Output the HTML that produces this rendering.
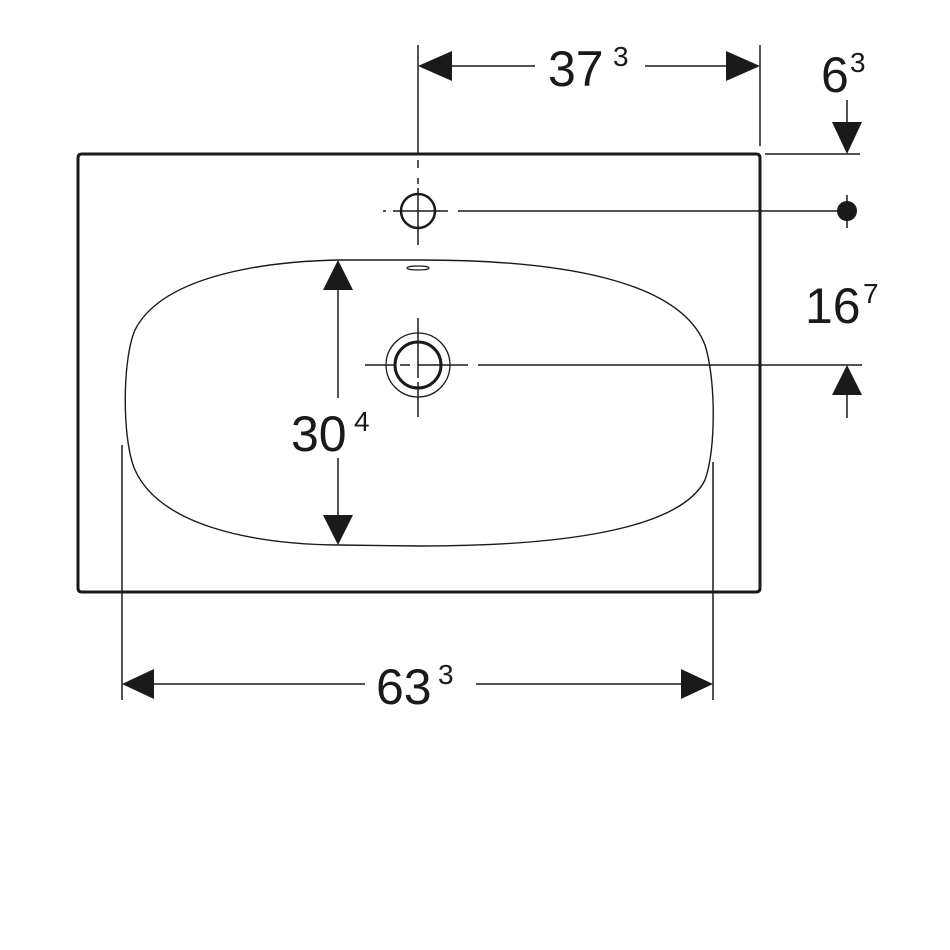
<!DOCTYPE html>
<html><head><meta charset="utf-8"><style>
html,body{margin:0;padding:0;background:#fff;}
svg{display:block;}
text{font-family:"Liberation Sans",sans-serif;fill:#1a1a1a;}
</style></head><body>
<svg width="950" height="950" viewBox="0 0 950 950" xmlns="http://www.w3.org/2000/svg">
<g stroke="#1a1a1a" fill="none">
<path d="M78,158 Q78,154 82,154 L756,154 Q760,154 760,158 L760,588 Q760,592 756,592 L82,592 Q78,592 78,588 Z" stroke-width="3"/>
<path d="M338,260 C250,262 160,280 135,330 C122,360 122,440 135,470 C160,525 250,544 338,545 L420,546 C560,546 680,530 705,480 C716,450 716,380 705,345 C680,280 560,260 420,260 Z" stroke-width="1.4"/>
<ellipse cx="418" cy="268" rx="11" ry="2" stroke-width="1.2"/>
<circle cx="418" cy="211" r="17" stroke-width="2.5"/>
<line x1="418" y1="188" x2="418" y2="245" stroke-width="1.5"/>
<line x1="418" y1="178" x2="418" y2="184" stroke-width="1.5"/>
<line x1="383" y1="211" x2="386" y2="211" stroke-width="1.5"/>
<line x1="393" y1="211" x2="448" y2="211" stroke-width="1.5"/>
<line x1="458" y1="211" x2="840" y2="211" stroke-width="1.5"/>
<circle cx="847" cy="211" r="10" fill="#1a1a1a" stroke="none"/>
<line x1="847" y1="195" x2="847" y2="228" stroke-width="1.5"/>
<circle cx="418" cy="365" r="32" stroke-width="1.3"/>
<circle cx="418" cy="365" r="23" stroke-width="3"/>
<line x1="418" y1="318" x2="418" y2="378" stroke-width="1.5"/>
<line x1="418" y1="382" x2="418" y2="417" stroke-width="1.5"/>
<line x1="365" y1="365" x2="395" y2="365" stroke-width="1.5"/>
<line x1="400" y1="365" x2="410" y2="365" stroke-width="1.5"/>
<line x1="418" y1="365" x2="468" y2="365" stroke-width="1.5"/>
<line x1="478" y1="365" x2="862" y2="365" stroke-width="1.5"/>
<line x1="418" y1="45" x2="418" y2="154" stroke-width="1.5"/>
<line x1="418" y1="160" x2="418" y2="168" stroke-width="1.5"/>
<line x1="760" y1="45" x2="760" y2="146" stroke-width="1.5"/>
<line x1="440" y1="66" x2="535" y2="66" stroke-width="1.5"/>
<line x1="645" y1="66" x2="740" y2="66" stroke-width="1.5"/>
<line x1="765" y1="154" x2="860" y2="154" stroke-width="1.5"/>
<line x1="847" y1="100" x2="847" y2="130" stroke-width="1.5"/>
<line x1="847" y1="390" x2="847" y2="418" stroke-width="1.5"/>
<line x1="338" y1="285" x2="338" y2="398" stroke-width="1.5"/>
<line x1="338" y1="458" x2="338" y2="520" stroke-width="1.5"/>
<line x1="122" y1="445" x2="122" y2="700" stroke-width="1.5"/>
<line x1="713" y1="462" x2="713" y2="700" stroke-width="1.5"/>
<line x1="150" y1="684" x2="365" y2="684" stroke-width="1.5"/>
<line x1="476" y1="684" x2="690" y2="684" stroke-width="1.5"/>
</g>
<g fill="#1a1a1a">
<polygon points="418,66 452,51 452,81"/>
<polygon points="760,66 726,51 726,81"/>
<polygon points="847,154 832,122 862,122"/>
<polygon points="847,365 832,395 862,395"/>
<polygon points="338,260 323,290 353,290"/>
<polygon points="338,545 323,515 353,515"/>
<polygon points="122,684 154,669 154,699"/>
<polygon points="713,684 681,669 681,699"/>
</g>
<text x="548" y="86" font-size="50">37</text><text x="613" y="66" font-size="28">3</text>
<text x="821" y="92" font-size="50">6</text><text x="850" y="72" font-size="28">3</text>
<text x="805" y="323" font-size="50">16</text><text x="863" y="303" font-size="28">7</text>
<text x="291" y="451" font-size="50">30</text><text x="354" y="431" font-size="28">4</text>
<text x="376" y="704" font-size="50">63</text><text x="438" y="684" font-size="28">3</text>
</svg>
</body></html>
